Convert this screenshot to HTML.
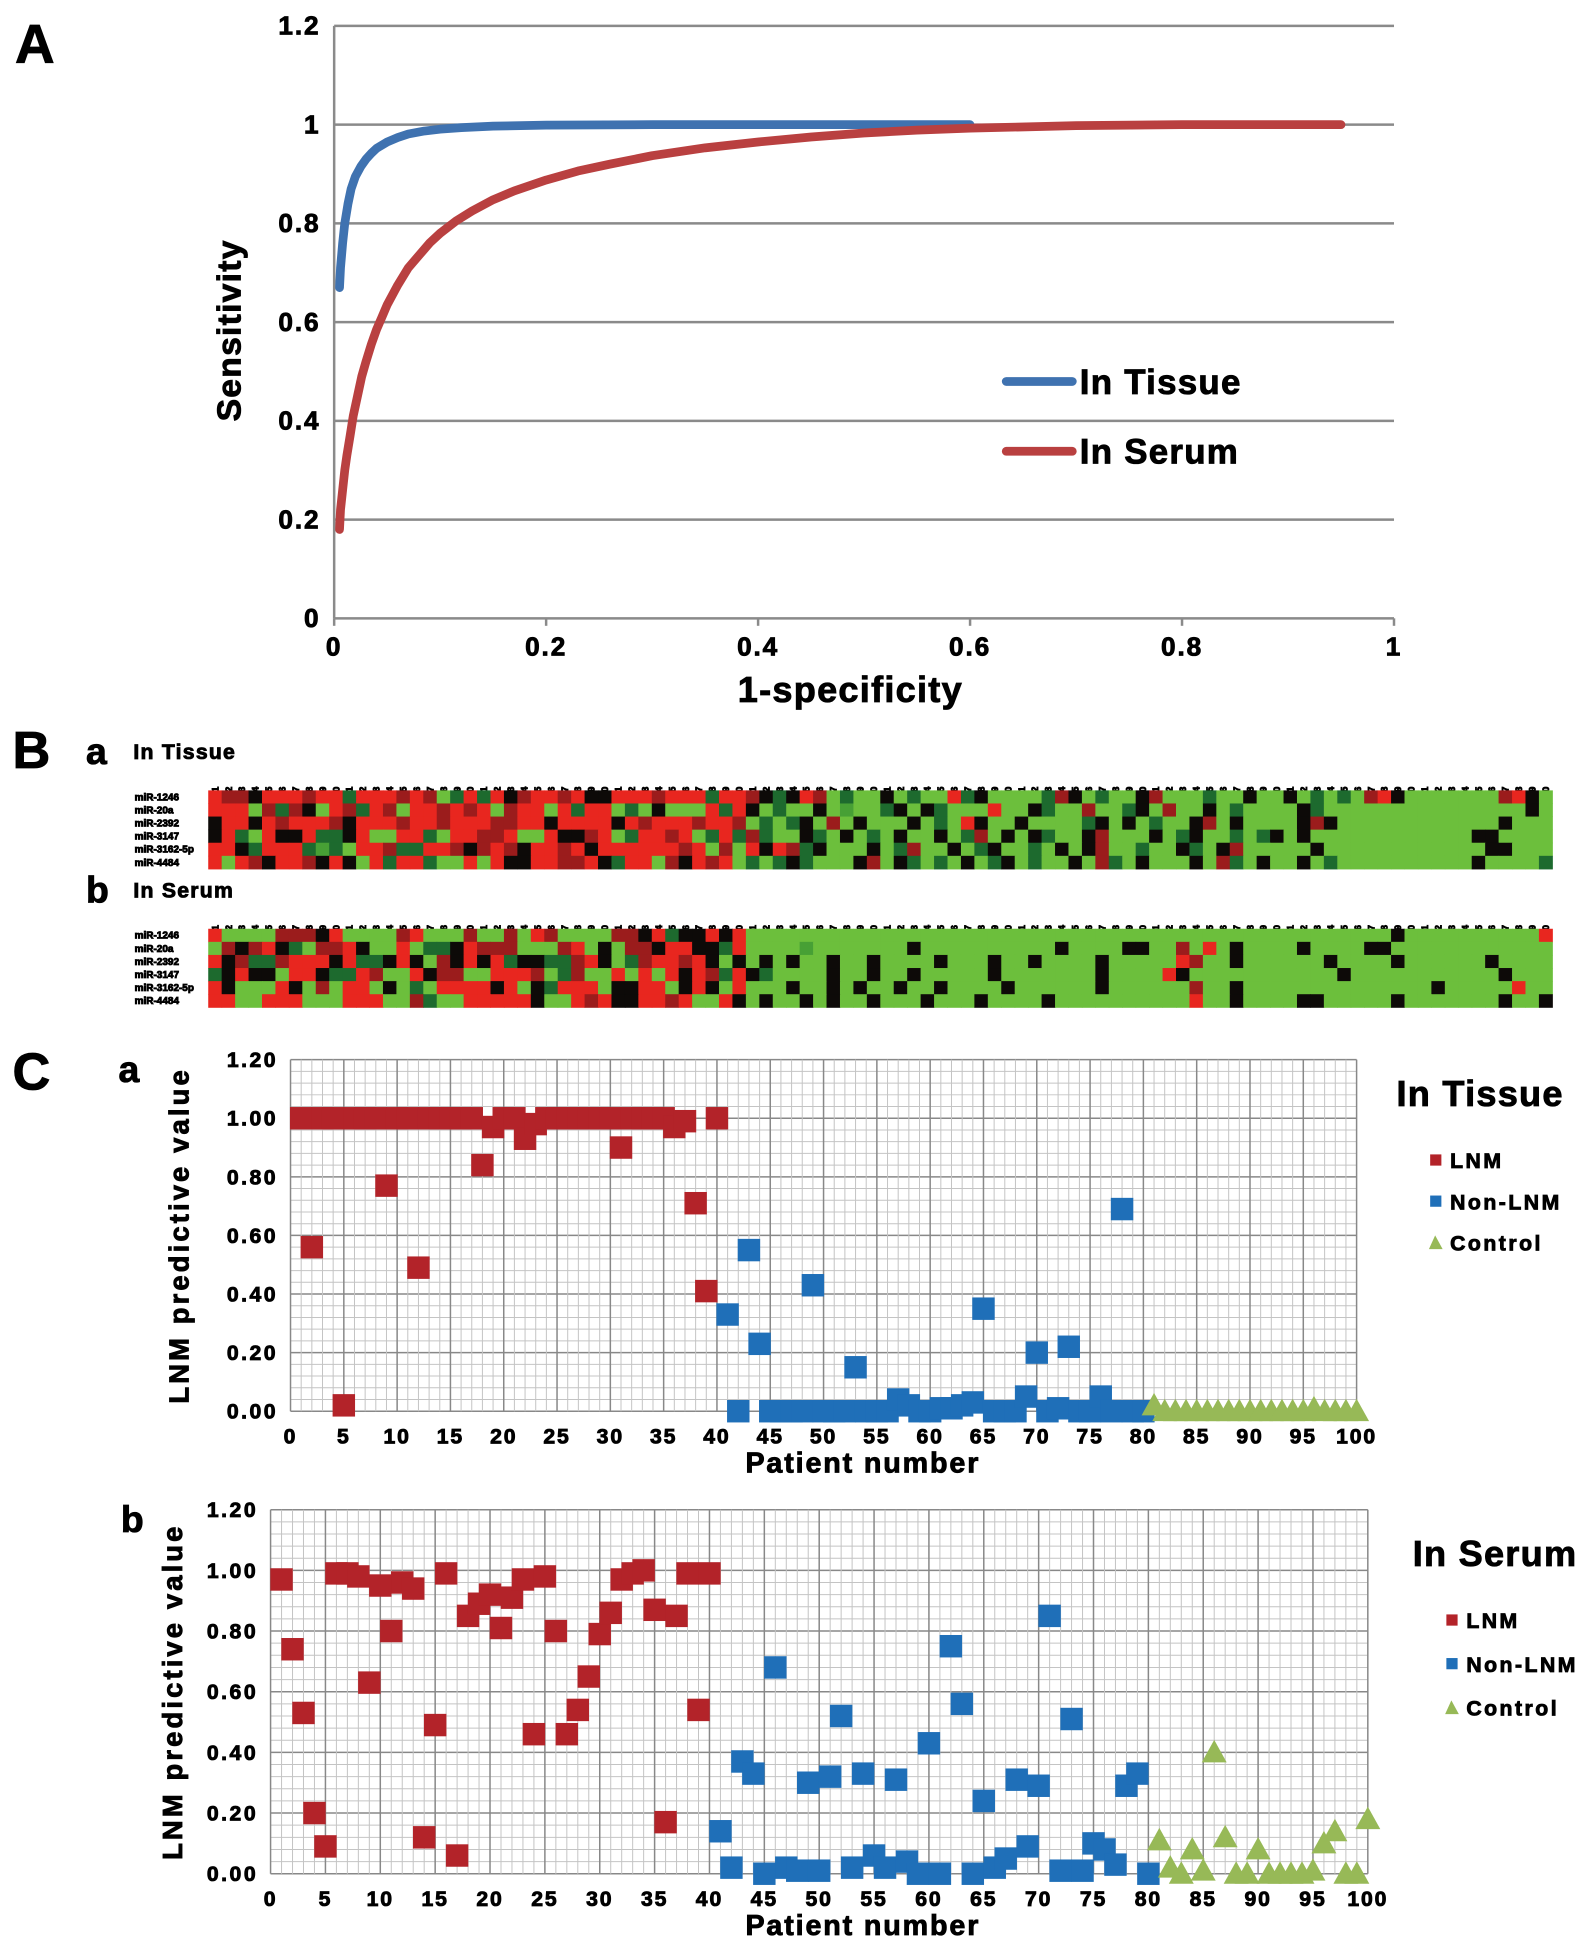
<!DOCTYPE html>
<html><head><meta charset="utf-8"><style>
html,body{margin:0;padding:0;background:#fff}
svg{display:block}
text{font-family:"Liberation Sans",Arial,sans-serif;font-weight:bold;fill:#000;stroke:#000;stroke-width:0.7}
</style></head><body>
<svg id="fig" width="1596" height="1956" viewBox="0 0 1280 1569" preserveAspectRatio="none" xmlns="http://www.w3.org/2000/svg">
<rect x="0" y="0" width="1280" height="1569" fill="#fff"/>
<g id="pA"></g>
<g id="pB"></g>
<g id="pCa"></g>
<g id="pCb"></g>
</svg>
<script>
const rocTissueX=[0.005,0.006,0.008,0.01,0.013,0.016,0.02,0.025,0.03,0.035,0.04,0.05,0.06,0.07,0.085,0.1,0.12,0.15,0.2,0.3,0.4,0.5,0.6];
const rocTissueY=[0.67,0.71,0.76,0.80,0.84,0.87,0.895,0.915,0.93,0.942,0.952,0.965,0.974,0.981,0.987,0.991,0.994,0.997,0.999,1,1,1,1];
const rocSerumX=[0.005,0.006,0.008,0.01,0.012,0.015,0.018,0.022,0.026,0.03,0.035,0.04,0.045,0.05,0.06,0.07,0.08,0.09,0.1,0.115,0.13,0.15,0.17,0.2,0.23,0.26,0.3,0.35,0.4,0.45,0.5,0.55,0.6,0.7,0.8,0.95];
const rocSerumY=[0.18,0.22,0.26,0.30,0.33,0.37,0.41,0.45,0.49,0.52,0.555,0.585,0.61,0.635,0.675,0.71,0.735,0.76,0.78,0.805,0.825,0.848,0.866,0.888,0.906,0.92,0.937,0.953,0.965,0.975,0.983,0.989,0.993,0.998,1,1];
const rocYTicks=["0","0.2","0.4","0.6","0.8","1","1.2"];
const rocXTicks=["0","0.2","0.4","0.6","0.8","1"];
const mirNames=["miR-1246","miR-20a","miR-2392","miR-3147","miR-3162-5p","miR-4484"];
const heatTissue=[
"RrrkRRRrRRgRRRrRrGgRgRkrRRrRkkRRRrRRRgRRrkgkRrGgGGkGgGGRgkGGGGgrkGgGGkrGGGgGGkGGkGgGgGrRkGGGGGGGrRkG",
"RRRGrgrkGRrgRrGRRrRrRGrRRGRgRRGgGkGGGRgRkGgGGkGmGGgkGkgGGGRGGkgGGrGGgkGrGGkGgGGGGkgGGGGGGGGGGGGGGGkG",
"kRRkRrRRRrkRRRrRRrRRRrrRRkRRRRkRrRRRrRRrGgGgkGrGkGGGkGgGRkGGkGGGGgkGkGgGGkrGkGGGGkrkGGGGGGGGGGGGkGGG",
"kRgGRkkRggkRGGRRgGRRrrRGGRkkrRGgRRrRGgRgrgGGkgGkGgGkGGkGgrGkGkgGGkrGGGkGgkGGgGgkGkGGGGGGGGGGGGkkGGGG",
"RRkgRRRgmgGRRrggRRrkrRrkRRrRkRRRRRRrRGrGRkRrgkGGGkGgrGGkGgkGGgGkGkrGGgGGkgGkrGGGGGkGGGGGGGGGGGGkkGGG",
"RGRrkRRrkRkGRgRRgGGRGRkkRRrrRkgRRGrkRrRGgGgkgGGGkrGkgGgGkGgkGgGGkGrgGkGGGkGrgGkGGkGgGGGGGGGGGGkGGGGg"];
const heatSerum=[
"RGGGGrrrkRGGGGrRGGGrGGrGRrGGGGrrkRgkkRkRGGGGGGGGGGGGGGGGGGGGGGGGGGGGGGGGGGGGGGGGGGGGGGGGkGGGGGGGGGGR",
"GrkrRkgGrrRkGGRGggkRrrrGGGrRGkGrrkRRkkgRGGGGmGGGGGGGkGGGGGGGGGGkGGGGkkGGrGRGkGGGGkGGGGkkGGGGGGGGGGGG",
"RkrggrRRRkRggkRkGrkRkRgkkggrRkGgrRRrRkGkGkGkGGkGGkGGGGkGGGkGGkGGGGkGGGGGRrGGkGGGGGGkGGGGkGGGGGGkGGGG",
"gkRkkGRRkggRrGGRkrrGGRRRrGgrGGRGRGRkRrgRkgGGGGkGGkGGkGGGGGkGGGGGGGkGGGGRkGGGGGGGGGGGkGGGGGGGGGGGkGG",
"RkGGGRkGrGRRGkGgGRRRRkRGkgRRRGkkRRGkRkGRGGGkGGkGkGGkGGkGGGGkGGGGGGkGGGGGGrGGkGGGGGGGGGGGGGGkGGGGGR",
"RRGGRRRGGGRRRGGrgGGRRRRRkGGRrRkkRRrRGGRkGkGGkGkGGkGGGkGGGkGGGGkGGGGGGGGGGRGGkGGGGkkGGGGGkGGGGGGGkGGk"];
const tissueLNM=[1,0.56,1,1,0.02,1,1,1,0.77,1,1,0.49,1,1,1,1,1,0.84,0.97,1,1,0.93,0.98,1,1,1,1,1,1,1,0.90,1,1,1,1,0.97,0.99,0.71,0.41,1];
const tissueNon=[0.33,0,0.55,0.23,0,0,0,0,0.43,0,0,0,0.15,0,0,0,0.04,0.02,0,0,0.01,0.01,0.02,0.03,0.35,0,0,0,0.05,0.20,0,0.01,0.22,0,0,0.05,0,0.69,0,0];
const tissueCtl=[0.02,0,0,0,0,0,0,0,0,0,0,0,0,0,0,0.01,0,0,0,0];
const serumLNM=[0.97,0.74,0.53,0.20,0.09,0.99,0.99,0.98,0.63,0.95,0.80,0.96,0.94,0.12,0.49,0.99,0.06,0.85,0.89,0.92,0.81,0.91,0.97,0.46,0.98,0.80,0.46,0.54,0.65,0.79,0.86,0.97,0.99,1.0,0.87,0.17,0.85,0.99,0.54,0.99];
const serumNon=[0.14,0.02,0.37,0.33,0,0.68,0.02,0.01,0.30,0.01,0.32,0.52,0.02,0.33,0.06,0.02,0.31,0.04,0,0.43,0,0.75,0.56,0,0.24,0.02,0.05,0.31,0.09,0.29,0.85,0.01,0.51,0.01,0.10,0.08,0.03,0.29,0.33,0];
const serumCtl=[0.11,0.02,0,0.08,0.01,0.40,0.12,0,0,0.08,0,0,0,0,0.01,0.10,0.14,0,0,0.18];
const pYTicks=["0.00","0.20","0.40","0.60","0.80","1.00","1.20"];
const pXTicks=["0","5","10","15","20","25","30","35","40","45","50","55","60","65","70","75","80","85","90","95","100"];

const NS="http://www.w3.org/2000/svg";
function mk(parent,tag,attrs,txt){const e=document.createElementNS(NS,tag);for(const k in attrs)e.setAttribute(k,attrs[k]);if(txt!==undefined)e.textContent=txt;parent.appendChild(e);return e;}

/* ---------- Panel A ---------- */
(function(){
const g=document.getElementById('pA');
const X0=268,X1=1118,Y0=496,YU=396;
const sx=v=>X0+(X1-X0)*v, sy=v=>Y0-YU*v;
let t=mk(g,'text',{x:12,y:50,'font-size':44},'A');

rocYTicks.forEach((lab,i)=>{const v=i*0.2;
 if(i>0){const l=mk(g,'line',{x1:X0,x2:X1,y1:sy(v),y2:sy(v),stroke:'#8a8a8a','stroke-width':2});
 }
 const tt=mk(g,'text',{x:257,y:sy(v)+7,'font-size':21,'text-anchor':'end','letter-spacing':'1.5'},lab);
 });
let ax=mk(g,'line',{x1:X0,x2:X0,y1:sy(1.2),y2:Y0,stroke:'#8a8a8a','stroke-width':2});

ax=mk(g,'line',{x1:X0,x2:X1,y1:Y0,y2:Y0,stroke:'#8a8a8a','stroke-width':2});

rocXTicks.forEach((lab,i)=>{const v=i*0.2;
 mk(g,'line',{x1:sx(v),x2:sx(v),y1:Y0,y2:Y0+6,stroke:'#8a8a8a','stroke-width':2});
 const tt=mk(g,'text',{x:sx(v),y:526,'font-size':21,'text-anchor':'middle','letter-spacing':'1.5'},lab);
 });
t=mk(g,'text',{x:0,y:0,'font-size':27,'text-anchor':'middle','letter-spacing':'1',transform:'translate(193,265) rotate(-90)'},'Sensitivity');

t=mk(g,'text',{x:682,y:563,'font-size':29,'text-anchor':'middle','letter-spacing':'1'},'1-specificity');

function curve(xs,ys,col,name){let d='';xs.forEach((x,i)=>{d+=(i?'L':'M')+sx(x).toFixed(1)+' '+sy(ys[i]).toFixed(1);});
 const p=mk(g,'path',{d:d,fill:'none',stroke:col,'stroke-width':7,'stroke-linecap':'round','stroke-linejoin':'round'});
 }
curve(rocTissueX,rocTissueY,'#3f72b0','tissue-roc-curve');
curve(rocSerumX,rocSerumY,'#b94040','serum-roc-curve');
[['#3f72b0','In Tissue',306],['#b94040','In Serum',362]].forEach(([c,l,y])=>{
 const ln=mk(g,'line',{x1:807,x2:860,y1:y,y2:y,stroke:c,'stroke-width':7,'stroke-linecap':'round'});
 
 const tt=mk(g,'text',{x:866,y:y+10,'font-size':28,'letter-spacing':'1'},l);
 });
})();

/* ---------- Panel B ---------- */
(function(){
const g=document.getElementById('pB');
const colors={R:'#e8261f',r:'#9b1c1c',k:'#0d0a08',g:'#1d6a2e',G:'#6cbf3c',m:'#47a035'};
let t=mk(g,'text',{x:10,y:616,'font-size':42},'B');

function heat(data,top,sub,title,name){
 const HX0=167,HX1=1245,CW=(HX1-HX0)/100,CH=10.5;
 let tt=mk(g,'text',{x:69,y:top-21,'font-size':30},sub);
 
 tt=mk(g,'text',{x:107,y:top-25,'font-size':17,'letter-spacing':'1'},title);
 
 for(let c=0;c<100;c++){const cx=HX0+CW*(c+0.5);
  const n=mk(g,'text',{x:0,y:0,'font-size':7.5,'text-anchor':'end','stroke-width':0.3,transform:'translate('+(cx+2.7)+','+(top-3)+') rotate(-90)'},String(c+1));
  }
 data.forEach((row,r)=>{
  const lb=mk(g,'text',{x:108,y:top+CH*r+8,'font-size':8,'stroke-width':0.3},mirNames[r]);
  
  for(let c=0;c<100;c++){const ch=row[c]||'G';
   const cell=mk(g,'rect',{x:HX0+CW*c,y:top+CH*r,width:CW+0.4,height:CH+0.4,fill:colors[ch]});
   }});
}
heat(heatTissue,634,'a','In Tissue','tissue-heatmap');
heat(heatSerum,745,'b','In Serum','serum-heatmap');
})();

/* ---------- Panel C ---------- */
function scatter(gid,o){
 const g=document.getElementById(gid);
 const sx=v=>o.X0+(o.X1-o.X0)*v/100, sy=v=>o.Y0-(o.Y0-o.Ytop)*v/1.2;
 if(o.big){const t=mk(g,'text',{x:10,y:o.Ytop+24,'font-size':42},'C');
  }
 let t=mk(g,'text',{x:o.subX,y:o.Ytop+18,'font-size':30},o.sub);
 
 for(let i=0;i<=30;i++){const v=i*0.04;const maj=i%5===0;
  mk(g,'line',{x1:o.X0,x2:o.X1,y1:sy(v),y2:sy(v),stroke:maj?'#888':'#c4c4c4','stroke-width':maj?1.2:0.8});}
 for(let i=0;i<=100;i++){const maj=i%5===0;
  mk(g,'line',{x1:sx(i),x2:sx(i),y1:o.Ytop,y2:o.Y0,stroke:maj?'#888':'#c4c4c4','stroke-width':maj?1.2:0.8});}
 pYTicks.forEach((lab,i)=>{const tt=mk(g,'text',{x:o.X0-10,y:sy(i*0.2)+6,'font-size':17,'text-anchor':'end','letter-spacing':'2'},lab);
  });
 pXTicks.forEach((lab,i)=>{const tt=mk(g,'text',{x:sx(i*5),y:o.Y0+26,'font-size':17,'text-anchor':'middle','letter-spacing':'1.5'},lab);
  });
 t=mk(g,'text',{x:692,y:o.Y0+49,'font-size':23,'text-anchor':'middle','letter-spacing':'1.5'},'Patient number');
 
 t=mk(g,'text',{x:0,y:0,'font-size':22,'text-anchor':'middle','letter-spacing':'2.5',transform:'translate('+o.ytX+','+((o.Y0+o.Ytop)/2)+') rotate(-90)'},'LNM predictive value');
 
 const S=18;
 o.lnm.forEach((v,i)=>{const r=mk(g,'rect',{x:sx(i+1)-S/2,y:sy(v)-S/2,width:S,height:S,fill:'#b32329'});
  });
 o.non.forEach((v,i)=>{const r=mk(g,'rect',{x:sx(i+41)-S/2,y:sy(v)-S/2,width:S,height:S,fill:'#1f6fb8'});
  });
 o.ctl.forEach((v,i)=>{const cx=sx(i+81),cy=sy(v);
  const p=mk(g,'polygon',{points:(cx-10)+','+(cy+8)+' '+(cx+10)+','+(cy+8)+' '+cx+','+(cy-10),fill:'#97b957'});
  });
 t=mk(g,'text',{x:o.legX,y:o.legY,'font-size':29,'letter-spacing':'1'},o.title);
 
 const mx=o.legX+31;
 [['LNM','#b32329',0],['Non-LNM','#1f6fb8',1],['Control','#97b957',2]].forEach(([l,c,k])=>{
  const y=o.legY+44+k*o.legGap;
  if(k<2){const r=mk(g,'rect',{x:mx-4,y:y-5,width:9,height:9,fill:c});}
  else{const p=mk(g,'polygon',{points:(mx-5)+','+(y+5)+' '+(mx+6)+','+(y+5)+' '+mx+','+(y-6),fill:c});}
  const tt=mk(g,'text',{x:mx+12,y:y+6,'font-size':17,'letter-spacing':'2'},l);
  });
}
scatter('pCa',{X0:233,X1:1088,Y0:1132,Ytop:850,big:true,sub:'a',subX:95,ytX:151,lnm:tissueLNM,non:tissueNon,ctl:tissueCtl,title:'In Tissue',legX:1120,legY:887,legGap:33});
scatter('pCb',{X0:217,X1:1097,Y0:1503,Ytop:1211,big:false,sub:'b',subX:97,ytX:146,lnm:serumLNM,non:serumNon,ctl:serumCtl,title:'In Serum',legX:1133,legY:1256,legGap:35});
</script>
</body></html>
